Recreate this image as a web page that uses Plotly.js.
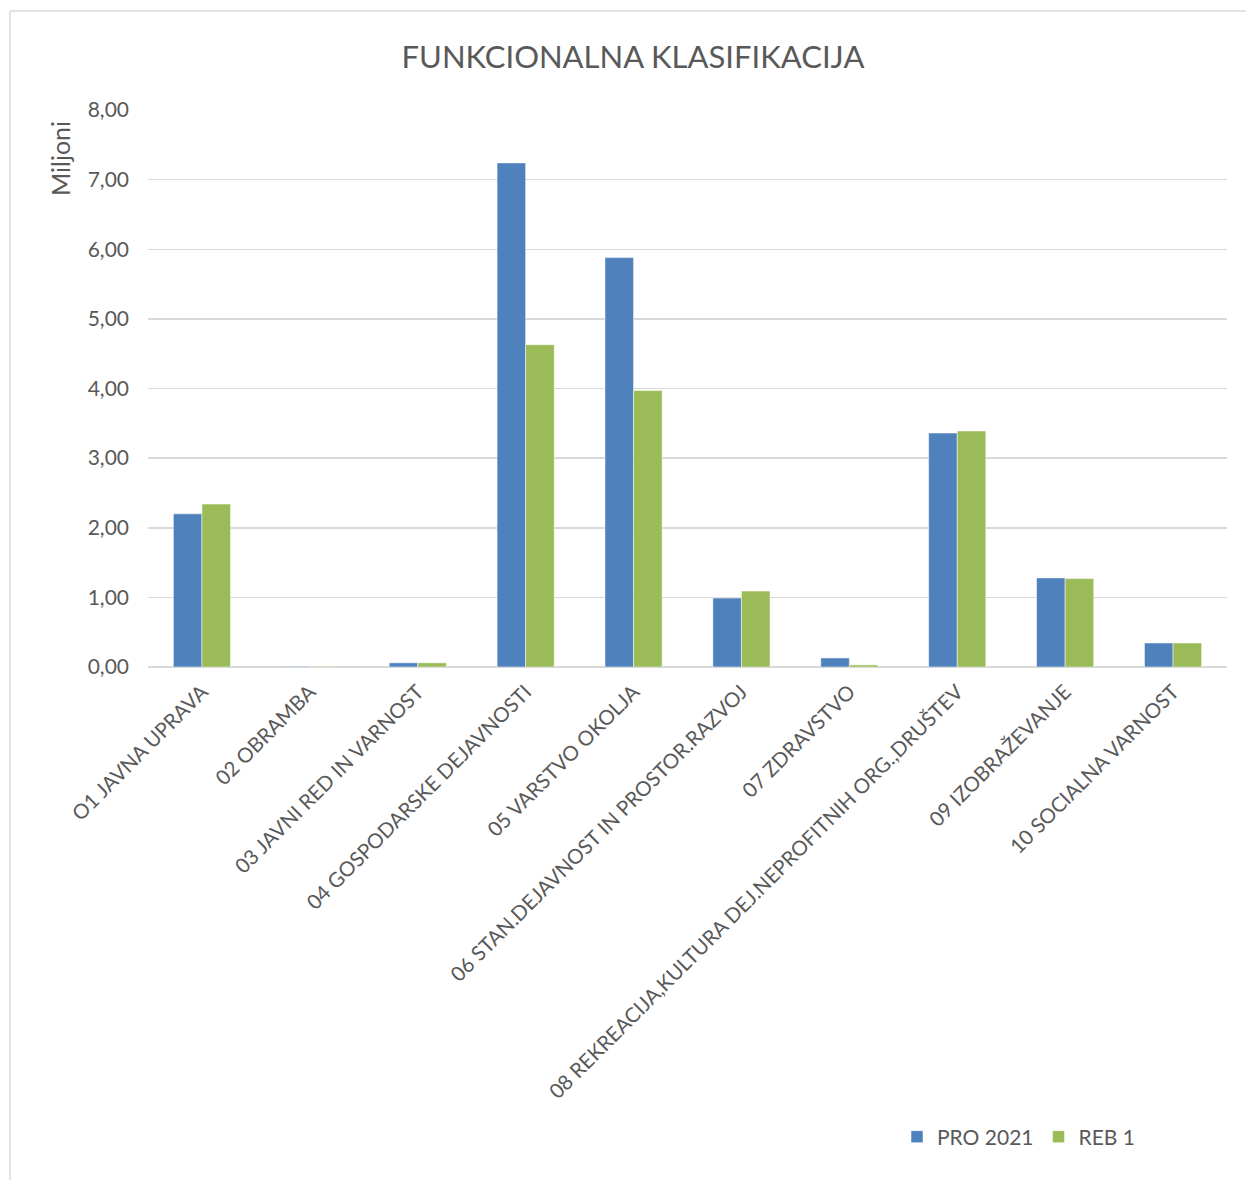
<!DOCTYPE html>
<html><head><meta charset="utf-8">
<script src="https://cdn.plot.ly/plotly-3.0.1.min.js"></script>
<style>html,body{margin:0;padding:0;background:#fff}#c{width:1246px;height:1180px}</style>
</head><body><div id="c"></div>
<script>
const categories = ["O1 JAVNA UPRAVA","02 OBRAMBA","03 JAVNI RED IN VARNOST","04 GOSPODARSKE DEJAVNOSTI","05 VARSTVO OKOLJA","06 STAN.DEJAVNOST IN PROSTOR.RAZVOJ","07 ZDRAVSTVO","08 REKREACIJA,KULTURA DEJ.NEPROFITNIH ORG.,DRUŠTEV","09 IZOBRAŽEVANJE","10 SOCIALNA VARNOST"];
const pro2021 = [2.20, 0.01, 0.06, 7.24, 5.88, 0.99, 0.13, 3.36, 1.28, 0.345];
const reb1 = [2.34, 0.01, 0.06, 4.63, 3.97, 1.09, 0.03, 3.39, 1.27, 0.345];
const yTicks = [0,1,2,3,4,5,6,7,8];

const font = "Lato, 'Open Sans', sans-serif";
const grey = "#595959";
const data = [
  {type:"bar", name:"PRO 2021", x:categories, y:pro2021, marker:{color:"#4F81BD", line:{color:"#ffffff", width:0.5}}},
  {type:"bar", name:"REB 1", x:categories, y:reb1, marker:{color:"#9BBB59", line:{color:"#ffffff", width:0.5}}}
];
const L=148,R=1227,T=110,B=667;
const px = v => (v-L)/(R-L), py = v => (B-v)/(B-T);
const layout = {
  width:1246, height:1180,
  margin:{l:L, r:1246-R, t:T, b:1180-B},
  paper_bgcolor:"#fff", plot_bgcolor:"#fff",
  font:{family:font, color:grey, size:18},
  title:{text:"FUNKCIONALNA KLASIFIKACIJA", font:{size:31, color:grey, family:font}, x:0.508, xanchor:"center", y:1-57/1180, yanchor:"middle"},
  barmode:"group", bargap:0.47, bargroupgap:0,
  xaxis:{tickangle:-45, tickfont:{size:20.5, color:grey}, showgrid:false, showline:false, ticks:"", ticklabelstandoff:8, automargin:false},
  yaxis:{range:[0,8], tickvals:yTicks, tickformat:".2f", tickfont:{size:21,color:grey}, gridcolor:"#d9d9d9", gridwidth:1.5, zeroline:true, zerolinecolor:"#d9d9d9", zerolinewidth:2, showline:false, ticks:"", ticklen:0, ticklabelstandoff:18, automargin:false},
  separators:",.",
  showlegend:true,
  legend:{orientation:"h", x:px(897), xanchor:"left", y:py(1137), yanchor:"middle", font:{size:21,color:grey}, itemwidth:30, traceorder:"normal"},
  annotations:[{text:"Miljoni", xref:"paper", yref:"paper", x:px(60), y:py(159), textangle:-90, showarrow:false, font:{size:25,color:grey}, xanchor:"center", yanchor:"middle"}],
  shapes:[
    {type:"line", xref:"paper", yref:"paper", x0:px(10), x1:px(10), y0:py(11), y1:py(1200), line:{color:"#d9d9d9", width:1.5}},
    {type:"line", xref:"paper", yref:"paper", x0:px(10), x1:px(1260), y0:py(11), y1:py(11), line:{color:"#d9d9d9", width:1.5}}
  ]
};
Plotly.newPlot("c", data, layout, {displayModeBar:false, staticPlot:true});
</script></body></html>
